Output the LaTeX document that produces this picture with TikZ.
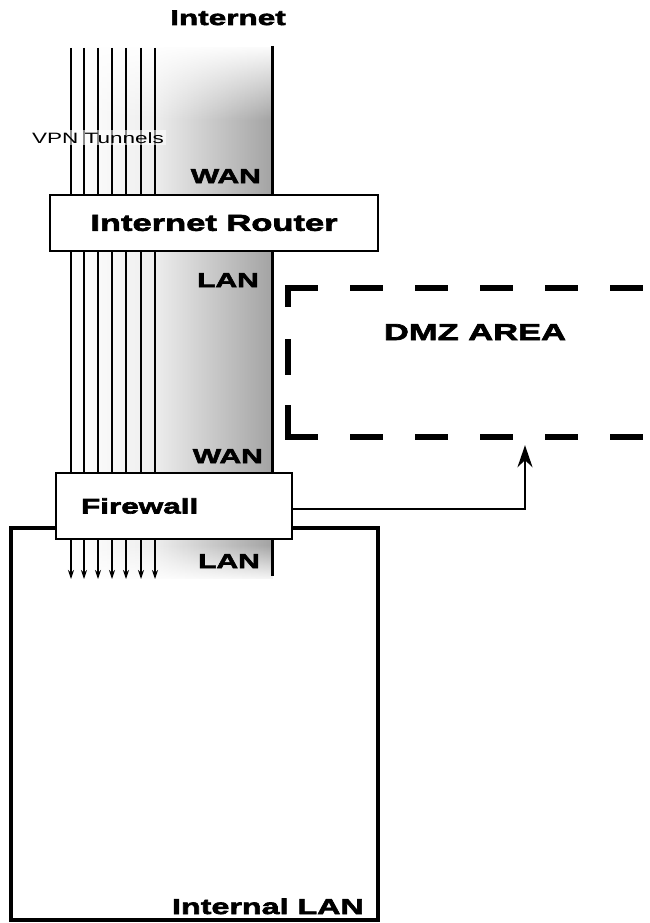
\documentclass[tikz,border=0pt]{standalone}
\usepackage{fontspec}
\newfontfamily\netfont{Liberation Sans}[FakeStretch=1.5]
\newfontfamily\netbold{Liberation Sans Bold}[FakeStretch=1.5, FakeBold=3]
\usetikzlibrary{arrows.meta,fadings,positioning}

\begin{document}
\begin{tikzpicture}[
  x=1pt, y=-1pt,
  devbox/.style={draw, fill=white, line width=2pt,
    font=\netbold\fontsize{23}{26}\selectfont},
  lbl/.style={inner sep=0pt, font=\netbold\fontsize{20}{24}\selectfont},
  tunnel/.style={line width=1.1pt, -{Stealth[length=9pt,width=6pt]}},
  arrow/.style={line width=2pt, -{Stealth[length=22pt,width=15pt,inset=7pt]}},
  dmzline/.style={line width=6pt, line cap=rect}
]
\useasboundingbox (0,0) rectangle (650,923);

% shaded uplink band
\shade[left color=white, right color=gray!14] (71,48) rectangle (155,578);
\shade[left color=gray!14, right color=gray!72] (155,48) rectangle (272,578);
\fill[white, path fading=south] (60,44) rectangle (272,120);
\fill[white, path fading=north] (60,545) rectangle (272,582);

% vpn tunnels
\foreach \tx [count=\i] in {71,84,98,112,126,141,155}
  \draw[tunnel] (\tx,48) coordinate (t\i) -- (\tx,579);
\draw[line width=3pt] (272,46) -- (272,576);

\node[draw, line width=3.2pt, minimum width=367pt, minimum height=392pt, inner sep=0pt] (lan) at (194.5,724) {};
\node[devbox, minimum width=328pt, minimum height=56pt] (router) at (214,223) {Internet Router};
\node[devbox, minimum width=236pt, minimum height=66pt, text width=186pt, inner xsep=25pt, align=left,
  font=\netbold\fontsize{21}{24}\selectfont] (fw) at (174,506) {Firewall};

\node[lbl, anchor=base, font=\netbold\fontsize{21}{24}\selectfont] (inet) at (228,25) {Internet};
\node[lbl, anchor=base west, inner sep=2pt, fill=white, fill opacity=0.55, text opacity=1,
  font=\netfont\fontsize{15}{18}\selectfont] (vpn) at (30,143) {VPN Tunnels};
\node[lbl, anchor=base east] (wanr) at (261,183) {WAN};
\node[lbl, anchor=base east] (lanr) at (259,287) {LAN};
\node[lbl, anchor=base east] (wanf) at (263,463) {WAN};
\node[lbl, anchor=base east] (lanf) at (260,568) {LAN};
\node[lbl, anchor=base east, font=\netbold\fontsize{21.5}{24}\selectfont] (lanlbl) at (364,914) {Internal LAN};

% dmz
\node[minimum width=474pt, minimum height=149pt, inner sep=0pt] (dmz) at (525,362.5) {};
\node[lbl, anchor=base, font=\netbold\fontsize{23}{26}\selectfont] (dmzlbl) at (475,340) {DMZ AREA};
\draw[dmzline, dash pattern=on 27pt off 38pt] (dmz.north west) -- (dmz.north east);
\draw[dmzline, dash pattern=on 27pt off 38pt] (dmz.south west) -- (dmz.south east);
\draw[dmzline, dash pattern=on 16pt off 38pt on 30pt off 36pt on 40pt] (dmz.north west) -- (dmz.south west);

\draw[arrow] ([yshift=-3pt]fw.east) -| ([yshift=-8pt]dmz.south);
\end{tikzpicture}
\end{document}
